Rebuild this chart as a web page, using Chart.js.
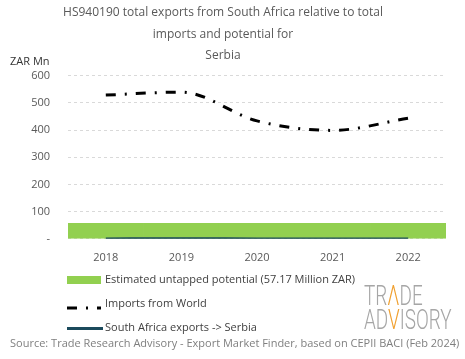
<!DOCTYPE html>
<html>
<head>
<meta charset="utf-8">
<script src="https://cdn.jsdelivr.net/npm/chart.js@4.4.1/dist/chart.umd.min.js"></script>
<style>
  body { margin: 0; background: #fff; }
  #wrap { position: relative; width: 465px; height: 359px; font-family: "Open Sans", sans-serif; }
  #yunit { position: absolute; left: 10px; top: 53px; font-size: 11px; color: #333; }
  .leg { position: absolute; left: 67px; font-size: 11px; color: #404040; white-space: nowrap; }
  .leg .sw { display: inline-block; width: 34px; height: 8px; vertical-align: middle; margin-right: 4px; position: relative; }
  #source { position: absolute; left: 10px; top: 335px; font-size: 11px; color: #7f7f7f; white-space: nowrap; }
  #logo { position: absolute; left: 364px; top: 284px; font-family: "Roboto", sans-serif; font-weight: 300; font-size: 27px; line-height: 24px; color: #a6a6a6; transform: scaleX(0.7); transform-origin: left top; white-space: nowrap; }
  #logo span { color: #f0a030; }
</style>
</head>
<body>
<div id="wrap">
  <canvas id="chart" width="465" height="359"></canvas>
  <div id="yunit">ZAR Mn</div>
  <div class="leg" style="top:271px"><span class="sw" style="background:#92d050"></span>Estimated untapped potential (57.17 Million ZAR)</div>
  <div class="leg" style="top:295px"><span class="sw"><canvas id="sw2" width="34" height="8"></canvas></span>Imports from World</div>
  <div class="leg" style="top:319px"><span class="sw"><span style="position:absolute;left:0;top:3px;width:36px;height:3px;background:#1b4a5c"></span></span>South Africa exports -&gt; Serbia</div>
  <div id="source">Source: Trade Research Advisory - Export Market Finder, based on CEPII BACI (Feb 2024)</div>
  <div id="logo">TR<span>&Lambda;</span>DE<br>AD<span>V</span>ISORY</div>
</div>
<script>
const years = ["2018", "2019", "2020", "2021", "2022"];
const untapped = [57.17, 57.17, 57.17, 57.17, 57.17];
const importsWorld = [529, 540, 434, 399, 444];
const saExports = [0.3, 1.5, 0.6, 0.4, 0.4];
const yTicks = [0, 100, 200, 300, 400, 500, 600];

// legend swatch for the dash-dot line
const s = document.getElementById('sw2').getContext('2d');
s.strokeStyle = '#000';
s.lineWidth = 3;
s.setLineDash([10, 9, 2, 9]);
s.beginPath();
s.moveTo(0, 4);
s.lineTo(34, 4);
s.stroke();

new Chart(document.getElementById('chart'), {
  data: {
    labels: years,
    datasets: [
      {
        type: 'line',
        label: 'Imports from World',
        data: importsWorld,
        borderColor: '#000',
        borderWidth: 3,
        borderDash: [10, 9, 2, 9],
        cubicInterpolationMode: 'monotone',
        pointRadius: 0,
        order: 1
      },
      {
        type: 'line',
        label: 'South Africa exports -> Serbia',
        data: saExports,
        borderColor: '#1b4a5c',
        borderWidth: 2.5,
        cubicInterpolationMode: 'monotone',
        pointRadius: 0,
        order: 2
      },
      {
        type: 'bar',
        label: 'Estimated untapped potential (57.17 Million ZAR)',
        data: untapped,
        backgroundColor: '#92d050',
        barPercentage: 1,
        categoryPercentage: 1,
        borderWidth: 0,
        order: 3
      }
    ]
  },
  options: {
    responsive: false,
    animation: false,
    layout: { padding: { left: 0, right: 19, bottom: 91 } },
    plugins: {
      legend: { display: false },
      tooltip: { enabled: false },
      title: {
        display: true,
        text: ['HS940190 total exports from South Africa relative to total', 'imports and potential for', 'Serbia'],
        color: '#595959',
        font: { family: 'Open Sans', size: 12, weight: 'normal', lineHeight: 1.8 },
        padding: { top: 2, bottom: 9 }
      }
    },
    scales: {
      x: {
        grid: { display: false },
        border: { display: false },
        ticks: { color: '#595959', font: { family: 'Open Sans', size: 11 }, padding: 4 }
      },
      y: {
        min: 0,
        max: 600,
        afterFit: function(scale) { scale.width = 68; },
        afterBuildTicks: function(scale) { scale.ticks = yTicks.map(v => ({ value: v })); },
        grid: { color: '#d9d9d9', borderDash: [3, 3], drawTicks: false },
        border: { display: false, dash: [3, 3] },
        ticks: {
          color: '#595959',
          font: { family: 'Open Sans', size: 11 },
          padding: 18,
          callback: v => v === 0 ? '-' : v
        }
      }
    }
  }
});
</script>
</body>
</html>
